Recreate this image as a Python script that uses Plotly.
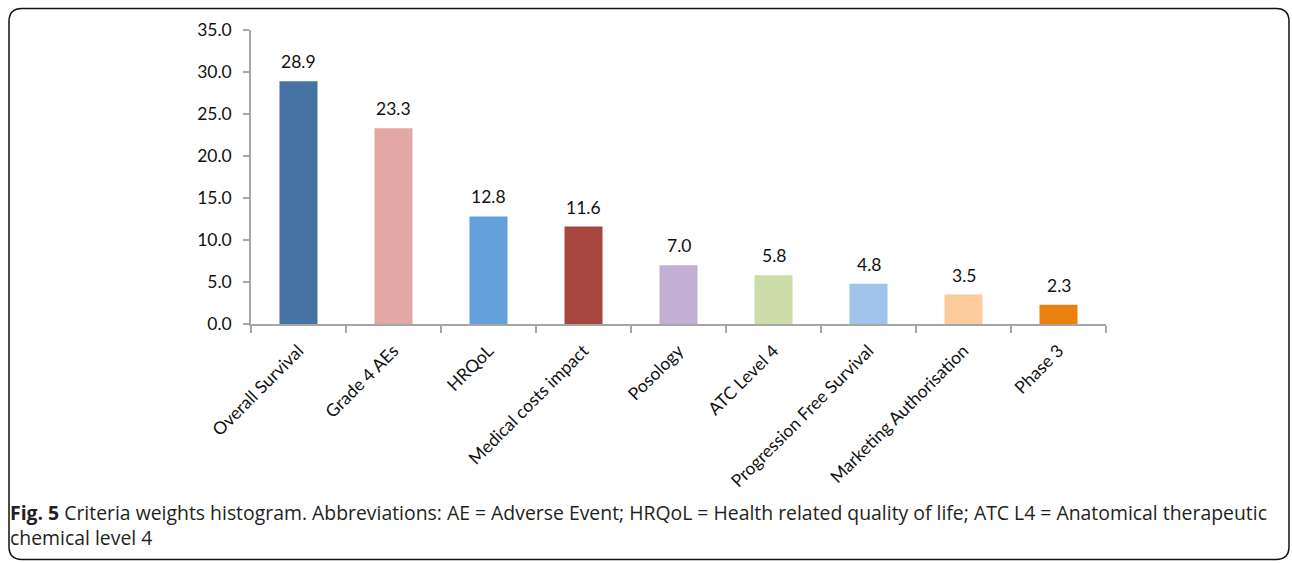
import plotly.graph_objects as go

categories = ["Overall Survival", "Grade 4 AEs", "HRQoL", "Medical costs impact",
              "Posology", "ATC Level 4", "Progression Free Survival",
              "Marketing Authorisation", "Phase 3"]
weights = [28.9, 23.3, 12.8, 11.6, 7.0, 5.8, 4.8, 3.5, 2.3]
colors = ["#4673A4", "#E3A8A6", "#64A0DC", "#A6463F", "#C2AFD3",
          "#CCDDAA", "#9FC3EA", "#FBCB9C", "#EB800D"]
y_ticks = [0, 5, 10, 15, 20, 25, 30, 35]
caption = ("<b>Fig. 5</b> Criteria weights histogram. Abbreviations: AE = Adverse Event; "
           "HRQoL = Health related quality of life; ATC L4 = Anatomical therapeutic"
           "<br>chemical level 4")

W, H = 1292, 563
L, R, T, B = 251, 1292 - 1106, 29.5, 563 - 324
pw, ph = W - L - R, H - T - B

def px(x):
    return (x - L) / pw

def py(y):
    return (H - B - y) / ph

fig = go.Figure()
fig.add_trace(go.Bar(
    x=categories, y=weights, marker=dict(color=colors, line=dict(width=0)),
    width=0.4, showlegend=False, hoverinfo="x+y"))

for c, v in zip(categories, weights):
    fig.add_annotation(x=c, y=v, text=f"{v:.1f}", showarrow=False,
                       yanchor="bottom", yshift=7,
                       font=dict(family="Lato, Carlito, sans-serif", size=17.5, color="#111111"))

# rounded frame
x0, y0, x1, y1, r = 9, 8, 1289, 560, 13
path = (f"M {px(x0+r)},{py(y0)} L {px(x1-r)},{py(y0)} Q {px(x1)},{py(y0)} {px(x1)},{py(y0+r)} "
        f"L {px(x1)},{py(y1-r)} Q {px(x1)},{py(y1)} {px(x1-r)},{py(y1)} "
        f"L {px(x0+r)},{py(y1)} Q {px(x0)},{py(y1)} {px(x0)},{py(y1-r)} "
        f"L {px(x0)},{py(y0+r)} Q {px(x0)},{py(y0)} {px(x0+r)},{py(y0)} Z")
fig.add_shape(type="path", path=path, xref="paper", yref="paper",
              line=dict(color="#111111", width=1.5))

fig.add_annotation(xref="paper", yref="paper", x=px(8), y=py(497), xanchor="left",
                   yanchor="top", align="left", showarrow=False, text=caption,
                   font=dict(family="Open Sans, sans-serif", size=19.4, color="#231F20"))

fig.update_layout(
    width=W, height=H, margin=dict(l=L, r=R, t=T, b=B, autoexpand=False),
    paper_bgcolor="white", plot_bgcolor="white",
    xaxis=dict(type="category", range=[-0.5, 8.5], showline=True, linecolor="#A6A6A6",
               linewidth=1.5, ticks="outside", tickson="boundaries", ticklen=7,
               tickcolor="#A6A6A6", tickwidth=1.5, tickangle=-45, showgrid=False,
               ticklabelstandoff=8,
               tickfont=dict(family="Lato, Carlito, sans-serif", size=17.5, color="#111111")),
    yaxis=dict(range=[0, 35], tickvals=y_ticks, ticktext=[f"{v:.1f}" for v in y_ticks],
               showline=True, linecolor="#A6A6A6", linewidth=1.5, ticks="outside",
               ticklen=6, tickcolor="#A6A6A6", tickwidth=1.5, showgrid=False,
               zeroline=False, ticklabelstandoff=8,
               tickfont=dict(family="Lato, Carlito, sans-serif", size=17.5, color="#111111")),
)

fig.write_html("out.html", config={"displayModeBar": False},
               post_script="document.body.style.margin='0';")
